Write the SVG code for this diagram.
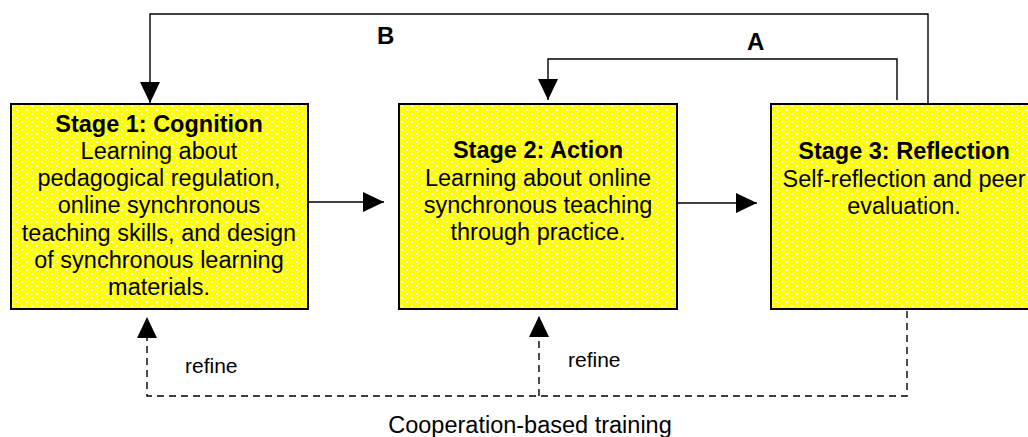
<svg xmlns="http://www.w3.org/2000/svg" width="1028" height="437" viewBox="0 0 1028 437">
  <style>
    .box { stroke: #000; stroke-width: 2; fill: url(#dots); }
    .t { font-family: "Liberation Sans", Arial, sans-serif; font-size: 23.5px; fill: #000; text-anchor: middle; }
    .tb { font-weight: bold; }
    .lbl { font-family: "Liberation Sans", Arial, sans-serif; fill: #000; }
    .conn { fill: none; stroke: #000; stroke-width: 1.4; }
    .dash { stroke-dasharray: 7 5; }
  </style>
  <defs>
    <pattern id="dots" patternUnits="userSpaceOnUse" x="0" y="0" width="10" height="8">
      <rect width="10" height="8" fill="#FFFF00"/>
      <rect x="1" y="1" width="2" height="2" fill="#FFFFFF"/>
      <rect x="6" y="5" width="2" height="2" fill="#FFFFFF"/>
    </pattern>
    <marker id="ah" markerUnits="userSpaceOnUse" markerWidth="21" markerHeight="20" refX="21" refY="10" orient="auto">
      <path d="M0,0 L21,10 L0,20 Z" fill="#000"/>
    </marker>
  </defs>

  <g id="connectors">
    <path class="conn" d="M928,104 V14 H150 V103" marker-end="url(#ah)"/>
    <path class="conn" d="M897,100 V59 H548 V100" marker-end="url(#ah)"/>
    <path class="conn" d="M309,202 H384" marker-end="url(#ah)"/>
    <path class="conn" d="M678,203 H757" marker-end="url(#ah)"/>
    <path class="conn dash" d="M907,311 V396 H147 V317" marker-end="url(#ah)"/>
    <path class="conn dash" d="M539,396 V316" marker-end="url(#ah)"/>
  </g>

  <g id="node-stage1">
    <rect class="box" x="11" y="104" width="297" height="205"/>
    <text class="t tb" x="159" y="131.5">Stage 1: Cognition</text>
    <text class="t" x="159" y="158.8">Learning about</text>
    <text class="t" x="159" y="186.1">pedagogical regulation,</text>
    <text class="t" x="159" y="213.4">online synchronous</text>
    <text class="t" x="159" y="240.7">teaching skills, and design</text>
    <text class="t" x="159" y="268">of synchronous learning</text>
    <text class="t" x="159" y="295.3">materials.</text>
  </g>

  <g id="node-stage2">
    <rect class="box" x="399" y="104" width="278" height="205"/>
    <text class="t tb" x="538" y="158.3">Stage 2: Action</text>
    <text class="t" x="538" y="185.6">Learning about online</text>
    <text class="t" x="538" y="212.9">synchronous teaching</text>
    <text class="t" x="538" y="240.2">through practice.</text>
  </g>

  <g id="node-stage3">
    <rect class="box" x="771" y="104" width="268" height="205"/>
    <text class="t tb" x="904" y="159.3">Stage 3: Reflection</text>
    <text class="t" x="904" y="186.6">Self-reflection and peer</text>
    <text class="t" x="904" y="213.9">evaluation.</text>
  </g>

  <g id="labels">
    <text class="lbl" x="377" y="44" font-size="24" font-weight="bold">B</text>
    <text class="lbl" x="747" y="50" font-size="24" font-weight="bold">A</text>
    <text class="lbl" x="185" y="373" font-size="21">refine</text>
    <text class="lbl" x="568" y="367" font-size="21">refine</text>
    <text class="lbl" x="530" y="433" font-size="23.5" text-anchor="middle">Cooperation-based training</text>
  </g>
</svg>
